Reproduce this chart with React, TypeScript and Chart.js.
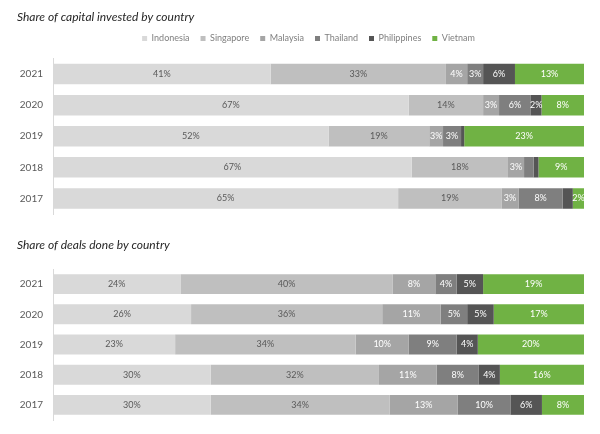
import React, { useEffect, useRef } from 'react';
import { Chart, registerables } from 'chart.js';

Chart.register(...registerables);

const years = ['2021', '2020', '2019', '2018', '2017'];
const countries = ['Indonesia', 'Singapore', 'Malaysia', 'Thailand', 'Philippines', 'Vietnam'];
const colors = ['#d9d9d9', '#bfbfbf', '#a5a5a5', '#7f7f7f', '#555555', '#70b244'];
const labelColors = ['#595959', '#595959', '#ffffff', '#ffffff', '#ffffff', '#ffffff'];

// Share of capital invested by country (%)
const capitalIndonesia = [41, 67, 52, 67, 64.8];
const capitalSingapore = [33, 14, 19, 18, 19.4];
const capitalMalaysia = [4, 3, 2.6, 3, 3.2];
const capitalThailand = [3, 6, 3.4, 1.8, 8.3];
const capitalPhilippines = [6, 2, 0.6, 0.9, 1.9];
const capitalVietnam = [13, 8, 22.6, 8.5, 2.1];

// Share of deals done by country (%)
const dealsIndonesia = [24, 26, 23, 30, 30];
const dealsSingapore = [40, 36, 34, 32, 34];
const dealsMalaysia = [8, 11, 10, 11, 13];
const dealsThailand = [4, 5, 9, 8, 10];
const dealsPhilippines = [5, 5, 4, 4, 6];
const dealsVietnam = [19, 17, 20, 16, 8];

const capitalSeries = [capitalIndonesia, capitalSingapore, capitalMalaysia, capitalThailand, capitalPhilippines, capitalVietnam];
const dealsSeries = [dealsIndonesia, dealsSingapore, dealsMalaysia, dealsThailand, dealsPhilippines, dealsVietnam];

const LABEL_MIN = 2;
const FONT = 'Lato';

function buildDatasets(series: number[][]) {
  const totals = years.map((_, i) => series.reduce((s, arr) => s + arr[i], 0));
  return series.map((arr, di) => ({
    label: countries[di],
    data: arr.map((v, i) => (v / totals[i]) * 100),
    rawValues: arr,
    backgroundColor: colors[di],
    borderWidth: 0,
    barPercentage: 0.66,
    categoryPercentage: 1,
  }));
}

const barLabels = {
  id: 'barLabels',
  afterDatasetsDraw(chart: any) {
    const ctx = chart.ctx;
    chart.data.datasets.forEach((ds: any, di: number) => {
      const meta = chart.getDatasetMeta(di);
      meta.data.forEach((el: any, i: number) => {
        const v = ds.rawValues[i];
        if (v < LABEL_MIN) return;
        const p = el.getProps(['x', 'y', 'base'], true);
        ctx.save();
        ctx.font = `9px ${FONT}`;
        ctx.fillStyle = labelColors[di];
        ctx.textAlign = 'center';
        ctx.textBaseline = 'middle';
        ctx.fillText(Math.round(v) + '%', (p.x + p.base) / 2, p.y);
        ctx.restore();
      });
    });
  },
};

const legendShift = {
  id: 'legendShift',
  afterLayout(chart: any, _args: any, opts: any) {
    if (chart.legend && opts && opts.dx) {
      chart.legend.left += opts.dx;
      chart.legend.right += opts.dx;
    }
  },
};

function makeChart(canvas: HTMLCanvasElement, title: string, series: number[][], withLegend: boolean) {
  const xScale: any = {
    stacked: true,
    min: 0,
    max: 100,
    display: withLegend,
    position: 'top',
    ticks: { display: false },
    grid: { display: false, drawTicks: false },
    border: { display: false },
  };
  if (withLegend) {
    xScale.afterFit = (s: any) => {
      s.height = 5.5;
    };
  }
  return new Chart(canvas, {
    type: 'bar',
    data: { labels: years, datasets: buildDatasets(series) as any },
    plugins: [barLabels, legendShift],
    options: {
      indexAxis: 'y',
      responsive: false,
      animation: false,
      layout: {
        padding: withLegend
          ? { left: 17, right: 16, top: 0, bottom: 11 }
          : { left: 17, right: 16, top: 0, bottom: 14 },
      },
      scales: {
        x: xScale,
        y: {
          stacked: true,
          grid: { display: false, drawTicks: false },
          border: { display: true, color: '#d9d9d9', width: 1 },
          ticks: {
            color: '#595959',
            font: { family: FONT, size: 10 },
            padding: 10,
          },
          afterFit: (s: any) => {
            s.width = 36;
            s.paddingTop = 0;
            s.paddingBottom = 0;
          },
        },
      },
      plugins: {
        title: {
          display: true,
          text: title,
          align: 'start',
          color: '#262626',
          font: { family: FONT, size: 12, style: 'italic', weight: 'normal', lineHeight: 1 },
          padding: withLegend ? { top: 11, bottom: 0 } : { top: 14, bottom: 18 },
        },
        legend: {
          display: withLegend,
          position: 'top',
          labels: {
            boxWidth: 5,
            boxHeight: 5,
            padding: 11,
            color: '#7f7f7f',
            font: { family: FONT, size: 9 },
          },
        },
        tooltip: { enabled: false },
        legendShift: { dx: 8 },
      } as any,
    },
  });
}

export default function App() {
  const topRef = useRef<HTMLCanvasElement>(null);
  const bottomRef = useRef<HTMLCanvasElement>(null);

  useEffect(() => {
    const c1 = makeChart(topRef.current!, 'Share of capital invested by country', capitalSeries, true);
    const c2 = makeChart(bottomRef.current!, 'Share of deals done by country', dealsSeries, false);
    return () => {
      c1.destroy();
      c2.destroy();
    };
  }, []);

  return (
    <div style={{ position: 'absolute', left: 0, top: 0, width: 600, height: 434, background: '#ffffff' }}>
      <canvas ref={topRef} width={600} height={225} style={{ position: 'absolute', left: 0, top: 0 }} />
      <canvas ref={bottomRef} width={600} height={209} style={{ position: 'absolute', left: 0, top: 225 }} />
    </div>
  );
}
